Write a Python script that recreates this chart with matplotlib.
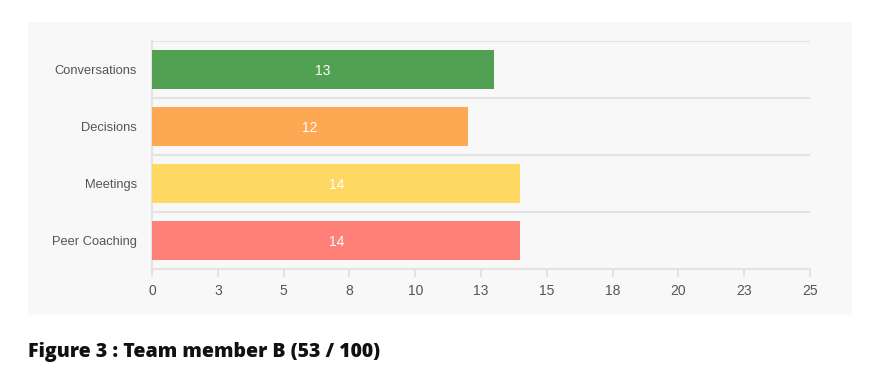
import matplotlib.pyplot as plt
from matplotlib.patches import Rectangle

categories = ["Conversations", "Decisions", "Meetings", "Peer Coaching"]
values = [13, 12, 14, 14]
colors = ["#52a052", "#fda853", "#fdd862", "#fe8076"]
xticks = [0, 2.5, 5, 7.5, 10, 12.5, 15, 17.5, 20, 22.5, 25]
xtick_labels = ["0", "3", "5", "8", "10", "13", "15", "18", "20", "23", "25"]

fig = plt.figure(figsize=(8.86, 3.83), dpi=100)
fig.patch.set_facecolor("white")

# light panel behind the chart
fig.patches.append(Rectangle((28 / 886, 68 / 383), 824 / 886, 293 / 383,
                             transform=fig.transFigure, facecolor="#f8f8f8",
                             edgecolor="none", zorder=0))

ax = fig.add_axes([152 / 886, 114 / 383, 658 / 886, 228 / 383])
ax.set_zorder(2)
ax.set_facecolor("none")

y = list(range(len(categories)))
ax.barh(y, values, height=0.7, color=colors, zorder=3)
for yi, v in zip(y, values):
    ax.text(v / 2, yi + 0.02, str(v), color="white", ha="center", va="center",
            fontsize=10, family="Liberation Sans", zorder=4)

ax.set_xlim(0, 25)
ax.set_ylim(len(categories) - 0.5, -0.5)

ax.set_yticks(y)
ax.set_yticklabels(categories, fontsize=9.3, color="#555555", family="Liberation Sans")
ax.set_yticks([i - 0.5 for i in range(len(categories) + 1)], minor=True)
ax.tick_params(axis="y", which="both", length=0, pad=11)
ax.grid(axis="y", which="minor", color="#e3e3e3", linewidth=1.5, zorder=1)

ax.set_xticks(xticks)
ax.set_xticklabels(xtick_labels, fontsize=10, color="#555555", family="Liberation Sans")
ax.tick_params(axis="x", length=6, width=1.2, color="#dddddd", pad=5)

for spine in ["top", "right"]:
    ax.spines[spine].set_visible(False)
for spine in ["left", "bottom"]:
    ax.spines[spine].set_color("#e3e3e3")
    ax.spines[spine].set_linewidth(1.5)

fig.text(28 / 886, 1 - 352 / 383, "Figure 3 : Team member B (53 / 100)",
         fontsize=14, fontweight="heavy", family="Open Sans", color="#111111",
         va="center", ha="left")

plt.savefig("out.png", dpi=100)
